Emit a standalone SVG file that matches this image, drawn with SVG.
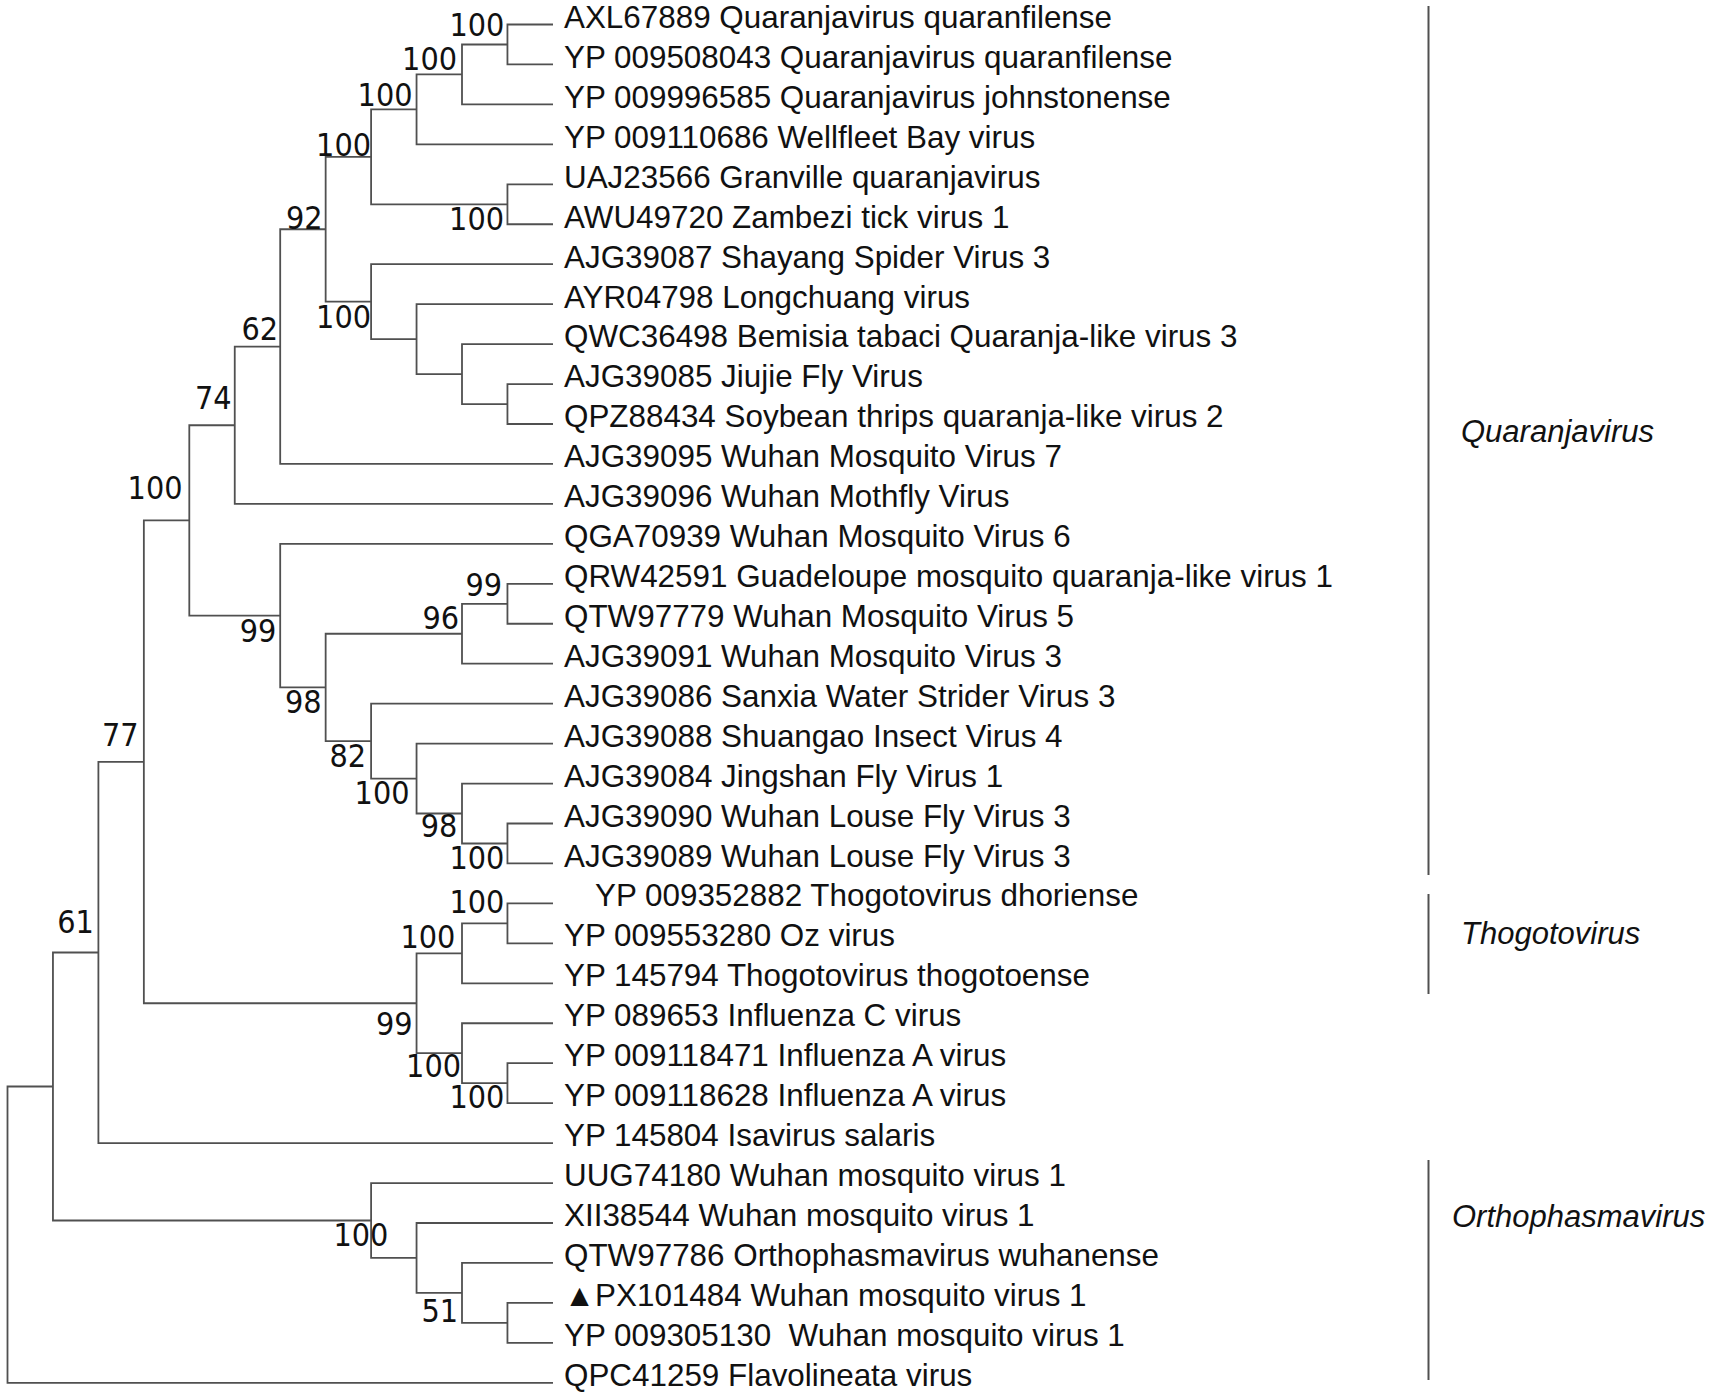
<svg xmlns="http://www.w3.org/2000/svg" width="1713" height="1394" viewBox="0 0 1713 1394">
<style>
.br{fill:none;stroke:#505050;stroke-width:1.8}
.bar{fill:none;stroke:#505050;stroke-width:2}
.lf{font-family:"Liberation Sans",Arial,sans-serif;font-size:31.4px;fill:#111}
.bs{font-family:"DejaVu Sans Condensed","DejaVu Sans",sans-serif;font-stretch:condensed;font-size:32px;text-anchor:end;fill:#111}
.cl{font-family:"Liberation Sans",Arial,sans-serif;font-style:italic;font-size:31px;fill:#111}
</style>
<rect width="1713" height="1394" fill="#fff"/>
<g id="connectors">
<path class="br" d="M553 24.5H507.45V64.45H553"/>
<path class="br" d="M507.45 44.48H462V104.4H553"/>
<path class="br" d="M462 74.44H416.55V144.35H553"/>
<path class="br" d="M553 184.3H507.45V224.25H553"/>
<path class="br" d="M416.55 109.39H371.1V204.28H507.45"/>
<path class="br" d="M553 384.05H507.45V424H553"/>
<path class="br" d="M553 344.1H462V404.03H507.45"/>
<path class="br" d="M553 304.15H416.55V374.06H462"/>
<path class="br" d="M553 264.2H371.1V339.1H416.55"/>
<path class="br" d="M371.1 156.83H325.65V301.65H371.1"/>
<path class="br" d="M325.65 229.24H280.2V463.95H553"/>
<path class="br" d="M280.2 346.6H234.75V503.9H553"/>
<path class="br" d="M553 583.8H507.45V623.75H553"/>
<path class="br" d="M507.45 603.78H462V663.7H553"/>
<path class="br" d="M553 823.5H507.45V863.45H553"/>
<path class="br" d="M553 783.55H462V843.48H507.45"/>
<path class="br" d="M553 743.6H416.55V813.5H462"/>
<path class="br" d="M553 703.65H371.1V778.55H416.55"/>
<path class="br" d="M462 633.74H325.65V741.1H371.1"/>
<path class="br" d="M553 543.85H280.2V687.42H325.65"/>
<path class="br" d="M234.75 425.25H189.3V615.6H280.2"/>
<path class="br" d="M553 903.4H507.45V943.35H553"/>
<path class="br" d="M507.45 923.38H462V983.3H553"/>
<path class="br" d="M553 1063.2H507.45V1103.15H553"/>
<path class="br" d="M553 1023.25H462V1083.18H507.45"/>
<path class="br" d="M462 953.3H416.55V1053.2H462"/>
<path class="br" d="M189.3 520.4H143.85V1003.25H416.55"/>
<path class="br" d="M143.85 761.8H98.4V1143.1H553"/>
<path class="br" d="M553 1302.9H507.45V1342.85H553"/>
<path class="br" d="M553 1262.95H462V1322.85H507.45"/>
<path class="br" d="M553 1223H416.55V1292.9H462"/>
<path class="br" d="M553 1183.05H371.1V1257.95H416.55"/>
<path class="br" d="M98.4 952.5H52.95V1220.5H371.1"/>
<path class="br" d="M52.95 1086.5H7.5V1382.8H553"/>
</g>
<g id="bootstrap">
<text class="bs" x="504.4" y="36">100</text>
<text class="bs" x="457" y="70">100</text>
<text class="bs" x="412.5" y="106">100</text>
<text class="bs" x="371" y="155.7">100</text>
<text class="bs" x="322.6" y="229.3">92</text>
<text class="bs" x="504" y="230">100</text>
<text class="bs" x="371" y="328.3">100</text>
<text class="bs" x="278" y="339.5">62</text>
<text class="bs" x="231.5" y="409.3">74</text>
<text class="bs" x="182.5" y="499.3">100</text>
<text class="bs" x="502" y="595.7">99</text>
<text class="bs" x="459" y="629">96</text>
<text class="bs" x="276.3" y="641.7">99</text>
<text class="bs" x="321.5" y="712.7">98</text>
<text class="bs" x="138.5" y="746">77</text>
<text class="bs" x="366" y="766.7">82</text>
<text class="bs" x="409.5" y="804.3">100</text>
<text class="bs" x="457.3" y="836.7">98</text>
<text class="bs" x="504.4" y="869.3">100</text>
<text class="bs" x="504.4" y="912.7">100</text>
<text class="bs" x="455.4" y="948.3">100</text>
<text class="bs" x="93.8" y="932.7">61</text>
<text class="bs" x="412.5" y="1035">99</text>
<text class="bs" x="461" y="1077.3">100</text>
<text class="bs" x="504.4" y="1108.3">100</text>
<text class="bs" x="388.4" y="1246">100</text>
<text class="bs" x="458" y="1322.3">51</text>
</g>
<g id="leaf-AXL67889"><text class="lf" x="564" y="27.5">AXL67889 Quaranjavirus quaranfilense</text></g>
<g id="leaf-YP009508043"><text class="lf" x="564" y="67.5">YP 009508043 Quaranjavirus quaranfilense</text></g>
<g id="leaf-YP009996585"><text class="lf" x="564" y="107.5">YP 009996585 Quaranjavirus johnstonense</text></g>
<g id="leaf-YP009110686"><text class="lf" x="564" y="147.5">YP 009110686 Wellfleet Bay virus</text></g>
<g id="leaf-UAJ23566"><text class="lf" x="564" y="187.5">UAJ23566 Granville quaranjavirus</text></g>
<g id="leaf-AWU49720"><text class="lf" x="564" y="227.5">AWU49720 Zambezi tick virus 1</text></g>
<g id="leaf-AJG39087"><text class="lf" x="564" y="267.5">AJG39087 Shayang Spider Virus 3</text></g>
<g id="leaf-AYR04798"><text class="lf" x="564" y="307.5">AYR04798 Longchuang virus</text></g>
<g id="leaf-QWC36498"><text class="lf" x="564" y="347">QWC36498 Bemisia tabaci Quaranja-like virus 3</text></g>
<g id="leaf-AJG39085"><text class="lf" x="564" y="387">AJG39085 Jiujie Fly Virus</text></g>
<g id="leaf-QPZ88434"><text class="lf" x="564" y="427">QPZ88434 Soybean thrips quaranja-like virus 2</text></g>
<g id="leaf-AJG39095"><text class="lf" x="564" y="467">AJG39095 Wuhan Mosquito Virus 7</text></g>
<g id="leaf-AJG39096"><text class="lf" x="564" y="507">AJG39096 Wuhan Mothfly Virus</text></g>
<g id="leaf-QGA70939"><text class="lf" x="564" y="547">QGA70939 Wuhan Mosquito Virus 6</text></g>
<g id="leaf-QRW42591"><text class="lf" x="564" y="587">QRW42591 Guadeloupe mosquito quaranja-like virus 1</text></g>
<g id="leaf-QTW97779"><text class="lf" x="564" y="626.5">QTW97779 Wuhan Mosquito Virus 5</text></g>
<g id="leaf-AJG39091"><text class="lf" x="564" y="666.5">AJG39091 Wuhan Mosquito Virus 3</text></g>
<g id="leaf-AJG39086"><text class="lf" x="564" y="706.5">AJG39086 Sanxia Water Strider Virus 3</text></g>
<g id="leaf-AJG39088"><text class="lf" x="564" y="746.5">AJG39088 Shuangao Insect Virus 4</text></g>
<g id="leaf-AJG39084"><text class="lf" x="564" y="786.5">AJG39084 Jingshan Fly Virus 1</text></g>
<g id="leaf-AJG39090"><text class="lf" x="564" y="826.5">AJG39090 Wuhan Louse Fly Virus 3</text></g>
<g id="leaf-AJG39089"><text class="lf" x="564" y="866.5">AJG39089 Wuhan Louse Fly Virus 3</text></g>
<g id="leaf-YP009352882"><text class="lf" x="595" y="906">YP 009352882 Thogotovirus dhoriense</text></g>
<g id="leaf-YP009553280"><text class="lf" x="564" y="946">YP 009553280 Oz virus</text></g>
<g id="leaf-YP145794"><text class="lf" x="564" y="986">YP 145794 Thogotovirus thogotoense</text></g>
<g id="leaf-YP089653"><text class="lf" x="564" y="1026">YP 089653 Influenza C virus</text></g>
<g id="leaf-YP009118471"><text class="lf" x="564" y="1066">YP 009118471 Influenza A virus</text></g>
<g id="leaf-YP009118628"><text class="lf" x="564" y="1106">YP 009118628 Influenza A virus</text></g>
<g id="leaf-YP145804"><text class="lf" x="564" y="1146">YP 145804 Isavirus salaris</text></g>
<g id="leaf-UUG74180"><text class="lf" x="564" y="1186">UUG74180 Wuhan mosquito virus 1</text></g>
<g id="leaf-XII38544"><text class="lf" x="564" y="1226">XII38544 Wuhan mosquito virus 1</text></g>
<g id="leaf-QTW97786"><text class="lf" x="564" y="1266">QTW97786 Orthophasmavirus wuhanense</text></g>
<g id="leaf-PX101484"><text class="lf" x="564" y="1306">▲PX101484 Wuhan mosquito virus 1</text></g>
<g id="leaf-YP009305130"><text class="lf" x="564" y="1346" xml:space="preserve">YP 009305130  Wuhan mosquito virus 1</text></g>
<g id="leaf-QPC41259"><text class="lf" x="564" y="1385.5">QPC41259 Flavolineata virus</text></g>
<g id="clade-Quaranjavirus"><line class="bar" x1="1428.5" y1="6" x2="1428.5" y2="875"/><text class="cl" x="1461" y="441.5">Quaranjavirus</text></g>
<g id="clade-Thogotovirus"><line class="bar" x1="1428.5" y1="894" x2="1428.5" y2="994"/><text class="cl" x="1461" y="944">Thogotovirus</text></g>
<g id="clade-Orthophasmavirus"><line class="bar" x1="1428.5" y1="1160" x2="1428.5" y2="1380"/><text class="cl" x="1452" y="1226.5">Orthophasmavirus</text></g>
</svg>
